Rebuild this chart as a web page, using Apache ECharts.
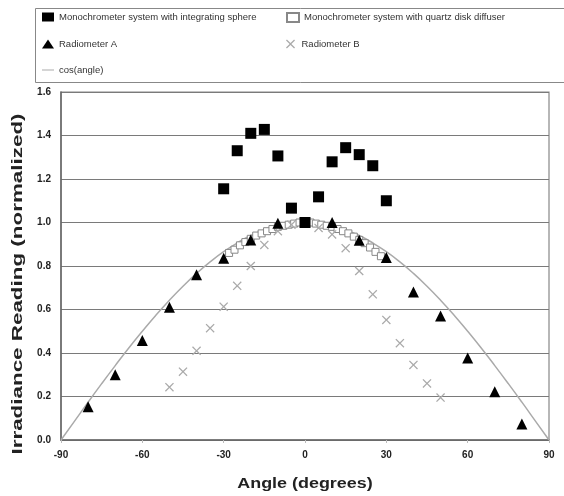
<!DOCTYPE html>
<html><head><meta charset="utf-8">
<script src="https://cdn.jsdelivr.net/npm/echarts@6/dist/echarts.min.js"></script>
<style>html,body{margin:0;padding:0;background:#fff}#c{width:564px;height:496px}</style>
</head><body><div id="c"></div>
<script>
// Data
var sphereAngles = [-30,-25,-20,-15,-10,-5,0,5,10,15,20,25,30];
var sphereValues = [1.155,1.33,1.41,1.428,1.306,1.066,1.0,1.118,1.279,1.344,1.312,1.261,1.10];

var quartzAngles = [-28,-26,-24,-22,-20,-18,-16,-14,-12,-10,-8,-6,-4,-2,0,2,4,6,8,10,12,14,16,18,20,22,24,26,28];
var quartzValues = [0.86,0.875,0.895,0.91,0.925,0.94,0.95,0.96,0.97,0.98,0.985,0.99,0.995,1.0,1.0,1.0,0.995,0.99,0.985,0.98,0.97,0.96,0.95,0.935,0.92,0.905,0.885,0.865,0.845];

var radAAngles = [-80,-70,-60,-50,-40,-30,-20,-10,10,20,30,40,50,60,70,80];
var radAValues = [0.153,0.30,0.457,0.61,0.76,0.836,0.92,0.997,1.0,0.918,0.839,0.68,0.57,0.377,0.222,0.074];

var radBAngles = [-50,-45,-40,-35,-30,-25,-20,-15,-10,-5,0,5,10,15,20,25,30,35,40,45,50];
var radBValues = [0.243,0.314,0.41,0.514,0.613,0.709,0.80,0.897,0.96,0.99,1.0,0.975,0.945,0.882,0.777,0.67,0.552,0.445,0.345,0.26,0.195];

var cosAngles = [-90,-85,-80,-75,-70,-65,-60,-55,-50,-45,-40,-35,-30,-25,-20,-15,-10,-5,0,5,10,15,20,25,30,35,40,45,50,55,60,65,70,75,80,85,90];
var cosValues = [0,0.087,0.174,0.259,0.342,0.423,0.5,0.574,0.643,0.707,0.766,0.819,0.866,0.906,0.94,0.966,0.985,0.996,1,0.996,0.985,0.966,0.94,0.906,0.866,0.819,0.766,0.707,0.643,0.574,0.5,0.423,0.342,0.259,0.174,0.087,0];

var xTicks = [-90,-60,-30,0,30,60,90];
var yTicks = [0,0.2,0.4,0.6,0.8,1.0,1.2,1.4,1.6];

var names = ['Monochrometer system with integrating sphere','Monochrometer system with quartz disk diffuser','Radiometer A','Radiometer B','cos(angle)'];
var xTitle = 'Angle (degrees)';
var yTitle = 'Irradiance Reading (normalized)';

function zip(a,b){return a.map(function(v,i){return [v,b[i]];});}
var crossPath = 'path://M0,1L1,0L5,4L9,0L10,1L6,5L10,9L9,10L5,6L1,10L0,9L4,5Z';
var font = 'Liberation Sans, Arial, sans-serif';

function lg(item, left, top, ih){
  return {data:[item], left:left, top:top, orient:'horizontal', itemWidth:12, itemHeight:ih||9, itemGap:4,
    padding:0, textStyle:{fontFamily:font, fontSize:9.5, color:'#333'}};
}

var chart = echarts.init(document.getElementById('c'));
chart.setOption({
  animation:false,
  backgroundColor:'#fff',
  graphic:[
    {type:'rect', shape:{x:35.5,y:8.5,width:540,height:74}, style:{fill:'none', stroke:'#888', lineWidth:1}},
    {type:'rect', shape:{x:61,y:92,width:488,height:348}, style:{fill:'none', stroke:'#888', lineWidth:1.2}, silent:true},
    {type:'text', x:305, y:484, scaleX:1.28, scaleY:1.05,
      style:{text:xTitle, fontFamily:font, fontSize:14, fontWeight:'bold', fill:'#222', align:'center', verticalAlign:'middle'}},
    {type:'text', x:18, y:284, rotation:Math.PI/2, scaleX:1.6, scaleY:1.05,
      style:{text:yTitle, fontFamily:font, fontSize:14, fontWeight:'bold', fill:'#222', align:'center', verticalAlign:'middle'}}
  ],
  legend:[lg(names[0],42,12), lg(names[1],286,12), lg(names[2],42,39), lg(names[3],286,39),
    lg({name:names[4], icon:'path://M0,0H12V1H0Z'},42,65,1.5)],
  grid:{left:61, right:15, top:92, bottom:56},
  xAxis:{type:'value', min:-90, max:90, interval:30,
    axisLine:{show:true, onZero:false, lineStyle:{color:'#666', width:1.5}},
    axisTick:{show:true, length:3, lineStyle:{color:'#bbb'}},
    axisLabel:{fontFamily:font, fontSize:10, fontWeight:'bold', color:'#222', margin:10},
    splitLine:{show:false}},
  yAxis:{type:'value', min:0, max:1.6, interval:0.2,
    axisLine:{show:true, onZero:false, lineStyle:{color:'#666', width:1.5}},
    axisTick:{show:false},
    axisLabel:{fontFamily:font, fontSize:10, fontWeight:'bold', color:'#222', margin:10,
      formatter:function(v){return v.toFixed(1);}},
    splitLine:{show:true, lineStyle:{color:'#7a7a7a', width:1.2}}},
  series:[
    {name:names[4], type:'line', data:zip(cosAngles,cosValues), smooth:true, showSymbol:false, symbol:'none',
      lineStyle:{color:'#aaa', width:1.5}, itemStyle:{color:'#aaa'}, z:1},
    {name:names[1], type:'scatter', data:zip(quartzAngles,quartzValues), symbol:'rect', symbolSize:7,
      itemStyle:{color:'#fff', borderColor:'#888', borderWidth:1, opacity:1}, z:2},
    {name:names[3], type:'scatter', data:zip(radBAngles,radBValues), symbol:crossPath, symbolSize:9,
      itemStyle:{color:'#aaa', opacity:1}, z:3},
    {name:names[2], type:'scatter', data:zip(radAAngles,radAValues), symbol:'triangle', symbolSize:11,
      itemStyle:{color:'#000', opacity:1}, z:4},
    {name:names[0], type:'scatter', data:zip(sphereAngles,sphereValues), symbol:'rect', symbolSize:11,
      itemStyle:{color:'#000', opacity:1}, z:5}
  ]
});
</script></body></html>
